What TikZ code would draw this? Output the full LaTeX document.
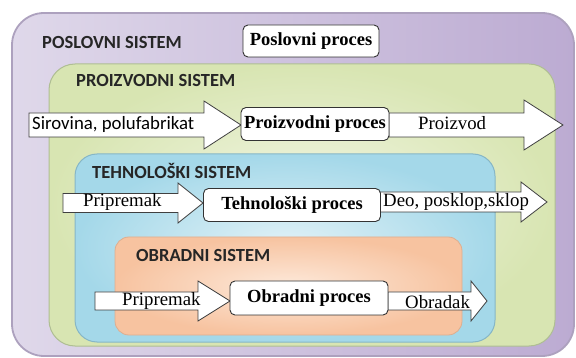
\documentclass[tikz,border=0pt]{standalone}
\usepackage{fontspec}
\setmainfont{Liberation Serif}
\newfontfamily\sysfont{Carlito}
\definecolor{purpL}{HTML}{DFD8EA}
\definecolor{purpR}{HTML}{BCABD2}
\definecolor{purpE}{HTML}{ADA1BE}
\definecolor{grnI}{HTML}{F2F6E4}
\definecolor{grnO}{HTML}{D8E5B2}
\definecolor{grnE}{HTML}{AFBE93}
\definecolor{tealI}{HTML}{E2F2F7}
\definecolor{tealO}{HTML}{A4D8E9}
\definecolor{tealE}{HTML}{86B6C6}
\definecolor{orI}{HTML}{FDE9DA}
\definecolor{orO}{HTML}{F7C3A0}
\definecolor{orE}{HTML}{DDAE90}
\newcommand\flowarrow[6]{% start, head start, tip, center y, shaft half, head half
  \path[flowarr] (#1,#4-#5) -- (#2,#4-#5) -- (#2,#4-#6) -- (#3,#4) -- (#2,#4+#6) -- (#2,#4+#5) -- (#1,#4+#5) -- cycle;}
\begin{document}
\begin{tikzpicture}[x=1pt,y=-1pt,
  syslabel/.style={anchor=west, inner sep=0pt, font=\sysfont\bfseries\fontsize{18.5}{18.5}\selectfont, text=black!85},
  procbox/.style={draw=black!80, line width=0.9pt, fill=white, rounded corners=5pt, inner sep=0pt, font=\bfseries\fontsize{18.5}{19}\selectfont},
  flowarr/.style={draw=black!75, line width=0.8pt, fill=white},
  flowtext/.style={anchor=west, inner sep=0pt, font=\fontsize{18.8}{19}\selectfont},
  flowsans/.style={anchor=west, inner sep=0pt, font=\sysfont\fontsize{18.8}{19}\selectfont}]
\useasboundingbox (0,0) rectangle (576,358);
% nested system boxes
\path[left color=purpL, right color=purpR, draw=purpE, line width=1.8pt, rounded corners=32pt] (12,13) rectangle (574,356);
\path[inner color=grnI, outer color=grnO, draw=grnE, line width=1pt, rounded corners=26pt] (49,64) rectangle (555,346);
\path[inner color=tealI, outer color=tealO, draw=tealE, line width=1pt, rounded corners=22pt] (75,154) rectangle (495,342);
\path[inner color=orI, outer color=orO, draw=orE, line width=0.8pt, rounded corners=14pt] (115,237) rectangle (462,335);
% system labels
\node[syslabel] (lps) at (42,42) {POSLOVNI SISTEM};
\node[syslabel] (lpz) at (76,80) {PROIZVODNI SISTEM};
\node[syslabel] (lts) at (92,171) {TEHNOLOŠKI SISTEM};
\node[syslabel] (los) at (136,255) {OBRADNI SISTEM};
% business process
\node[procbox, minimum width=136pt, minimum height=32pt] (pp) at (311,41) {Poslovni proces};
% row 1
\flowarrow{29}{204}{241}{125}{12}{24}
\flowarrow{389}{524}{563}{125}{12}{25}
\node[procbox, minimum width=148pt, minimum height=33pt] (pz) at (315,124) {Proizvodni proces};
\node[flowsans] (in1) at (32,124) {Sirovina, polufabrikat};
\node[flowtext] (out1) at (418,123) {Proizvod};
% row 2
\flowarrow{63}{178}{203}{203}{9.5}{20}
\flowarrow{380}{521}{547}{202}{10}{20}
\node[procbox, minimum width=177pt, minimum height=33pt] (th) at (292,205) {Tehnološki proces};
\node[flowtext] (in2) at (83,202) {Pripremak};
\node[flowtext] (out2) at (383,202) {Deo, posklop,sklop};
% row 3
\flowarrow{95}{198}{230}{301}{9}{20}
\flowarrow{388}{471}{487}{301}{9}{20}
\node[procbox, minimum width=158pt, minimum height=34pt] (ob) at (309,298) {Obradni proces};
\node[flowtext] (in3) at (122,301) {Pripremak};
\node[flowtext] (out3) at (405,302) {Obradak};
\end{tikzpicture}
\end{document}
